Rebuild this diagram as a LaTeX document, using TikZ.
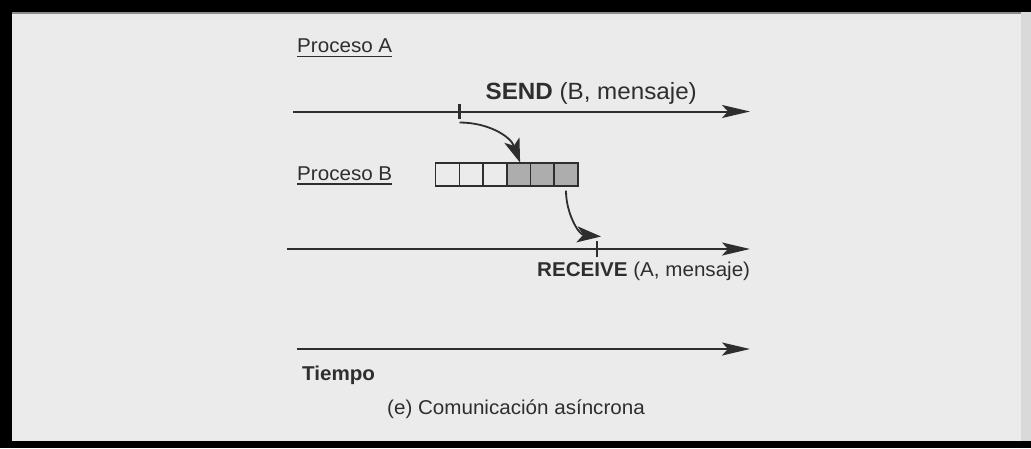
\documentclass[tikz,border=0pt]{standalone}
\usepackage{fontspec}
\setmainfont{Liberation Sans}[FakeStretch=1.03]
\usetikzlibrary{arrows.meta}
\definecolor{paper}{HTML}{EBEBEB}
\definecolor{ink}{HTML}{2E2E2E}
\definecolor{cellfill}{HTML}{ADADAD}
\definecolor{edgestrip}{HTML}{D9D9D9}
\begin{document}
\begin{tikzpicture}[x=1pt,y=-1pt,
  lbl/.style={font=\fontsize{20}{22}\selectfont, text=ink, inner sep=0pt},
  biglbl/.style={font=\fontsize{23.5}{25}\selectfont, text=ink, inner sep=0pt},
  timeline/.style={draw=ink, line width=2pt, -{Stealth[length=28pt,width=13pt,inset=6pt]}},
  msgarrow/.style={draw=ink, line width=1.8pt, -{Stealth[length=24pt,width=16pt,inset=6pt]}},
  tickmark/.style={draw=ink, line width=2.2pt},
  uline/.style={draw=ink, line width=1.4pt},
  cell/.style={draw=ink, line width=1.6pt, minimum width=23.7pt, minimum height=23pt, inner sep=0pt, outer sep=0pt},
  fullcell/.style={cell, fill=cellfill}]

% page and scanner frame
\useasboundingbox (0,0) rectangle (1031,448);
\fill[paper] (0,0) rectangle (1031,448);
\fill[edgestrip] (1021,0) rectangle (1031,448);
\fill[black] (0,0) rectangle (1031,12);
\fill[black] (0,0) rectangle (12,448);
\fill[black] (0,441) rectangle (1031,448);
\fill[black!45] (12,12) rectangle (1021,14);

% process A
\node[lbl, anchor=base west] (pa) at (297,52.7) {Proceso A};
\draw[uline] ([yshift=-4pt]pa.base west) -- ([yshift=-4pt]pa.base east);
\node[biglbl, anchor=base east] (send) at (697,99) {\textbf{SEND} (B, mensaje)};
\coordinate (astart) at (293,111.5);
\coordinate (aend) at (750,111.5);
\draw[timeline] (astart) -- (aend);
\coordinate (sendpt) at (459.5,111.5);
\draw[tickmark] ([yshift=7.5pt]sendpt) -- ([yshift=-7.5pt]sendpt);

% process B and its mailbox
\node[lbl, anchor=base west] (pb) at (297,180) {Proceso B};
\draw[uline] ([yshift=-4pt]pb.base west) -- ([yshift=-4pt]pb.base east);
\node[cell] (c1) at (447.5,174.2) {};
\node[cell, anchor=west] (c2) at (c1.east) {};
\node[cell, anchor=west] (c3) at (c2.east) {};
\node[fullcell, anchor=west] (c4) at (c3.east) {};
\node[fullcell, anchor=west] (c5) at (c4.east) {};
\node[fullcell, anchor=west] (c6) at (c5.east) {};

\coordinate (bstart) at (287,249);
\coordinate (bend) at (750,249);
\draw[timeline] (bstart) -- (bend);
\coordinate (recvpt) at (597,249);
\draw[tickmark] ([yshift=8pt]recvpt) -- ([yshift=-8pt]recvpt);
\node[lbl, anchor=base west] (recv) at (537,276) {\textbf{RECEIVE} (A, mensaje)};

% message flow
\draw[msgarrow] ([yshift=-11pt]sendpt) to[out=0,in=110] ([xshift=1.5pt]c4.north);
\draw[msgarrow] ([yshift=-5pt]c6.south) to[out=-90,in=175] ([xshift=4pt,yshift=12.5pt]recvpt);

% time axis
\coordinate (tstart) at (297,349);
\coordinate (tend) at (750,349);
\draw[timeline] (tstart) -- (tend);
\node[lbl, anchor=base west] (tiempo) at (302,380) {\textbf{Tiempo}};

\node[lbl, anchor=base west] (caption) at (387,414) {(e) Comunicación asíncrona};
\end{tikzpicture}
\end{document}
